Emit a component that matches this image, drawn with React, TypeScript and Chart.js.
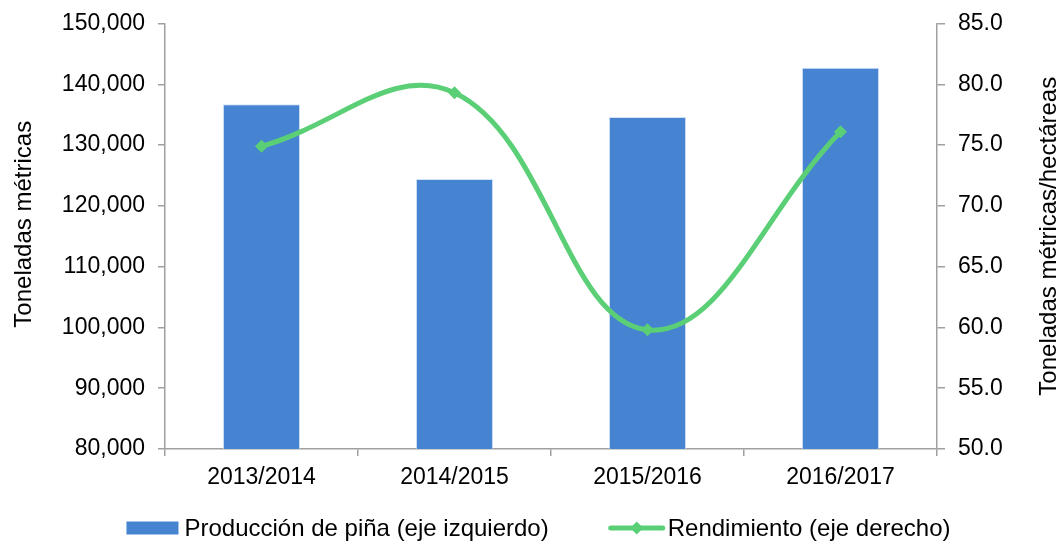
import React, { useEffect, useRef } from "react";
import { Chart, registerables } from "chart.js";

Chart.register(...registerables);

const categories = ["2013/2014", "2014/2015", "2015/2016", "2016/2017"];
const produccion = [136700, 124400, 134600, 142700];
const rendimiento = [74.9, 79.3, 59.8, 76.1];
const leftAxisRange = [80000, 150000, 10000];
const rightAxisRange = [50, 85, 5];
const seriesNames = ["Producción de piña (eje izquierdo)", "Rendimiento (eje derecho)"];
const axisTitles = ["Toneladas métricas", "Toneladas métricas/hectáreas"];

const FONT = '"Liberation Sans", Arial, Helvetica, sans-serif';
const BAR_COLOR = "#4683D1";
const LINE_COLOR = "#5ACF76";
const AXIS_COLOR = "#A0A0A0";

const overlayPlugin = {
  id: "overlay",
  afterDraw(chart: any) {
    const ctx = chart.ctx as CanvasRenderingContext2D;
    const ca = chart.chartArea;
    const midY = (ca.top + ca.bottom) / 2;
    ctx.save();
    ctx.fillStyle = "#000";
    ctx.textAlign = "center";
    ctx.textBaseline = "middle";
    ctx.font = `24px ${FONT}`;
    // left axis title
    ctx.save();
    ctx.translate(24, midY - 12);
    ctx.rotate(-Math.PI / 2);
    ctx.fillText(axisTitles[0], 0, 0);
    ctx.restore();
    // right axis title
    ctx.save();
    ctx.translate(chart.width - 10, midY);
    ctx.rotate(-Math.PI / 2);
    ctx.fillText(axisTitles[1], 0, 0);
    ctx.restore();

    // legend
    ctx.font = `24px ${FONT}`;
    const t1 = ctx.measureText(seriesNames[0]).width;
    const t2 = ctx.measureText(seriesNames[1]).width;
    const boxW = 52, gap1 = 6, between = 60, lineW = 56, gap2 = 3;
    const total = boxW + gap1 + t1 + between + lineW + gap2 + t2;
    let x = chart.width / 2 + 9 - total / 2;
    const y = 528;
    ctx.fillStyle = BAR_COLOR;
    ctx.fillRect(x, y - 6.5, boxW, 13);
    x += boxW + gap1;
    ctx.fillStyle = "#000";
    ctx.textAlign = "left";
    ctx.fillText(seriesNames[0], x, y + 1);
    x += t1 + between;
    ctx.strokeStyle = LINE_COLOR;
    ctx.lineWidth = 5;
    ctx.lineCap = "round";
    ctx.beginPath();
    ctx.moveTo(x + 2, y);
    ctx.lineTo(x + lineW - 2, y);
    ctx.stroke();
    ctx.fillStyle = LINE_COLOR;
    const cx = x + lineW / 2, r = 6.5;
    ctx.beginPath();
    ctx.moveTo(cx, y - r);
    ctx.lineTo(cx + r, y);
    ctx.lineTo(cx, y + r);
    ctx.lineTo(cx - r, y);
    ctx.closePath();
    ctx.fill();
    x += lineW + gap2;
    ctx.fillStyle = "#000";
    ctx.fillText(seriesNames[1], x, y + 1);
    ctx.restore();
  },
};

export default function App() {
  const canvasRef = useRef<HTMLCanvasElement | null>(null);

  useEffect(() => {
    document.body.style.margin = "0";
    const canvas = canvasRef.current;
    if (!canvas) return;
    const tickFont = { family: FONT, size: 23, lineHeight: 1.2 };
    const yTickFont = { family: FONT, size: 23, lineHeight: 0.8 };
    const chart = new Chart(canvas, {
      type: "bar",
      data: {
        labels: categories,
        datasets: [
          {
            type: "line",
            label: seriesNames[1],
            data: rendimiento,
            yAxisID: "y1",
            borderColor: LINE_COLOR,
            backgroundColor: LINE_COLOR,
            borderWidth: 5,
            tension: 0.4,
            pointStyle: "rectRot",
            pointRadius: 6.5,
            pointBorderWidth: 0,
            pointBackgroundColor: LINE_COLOR,
            order: 0,
          } as any,
          {
            type: "bar",
            label: seriesNames[0],
            data: produccion,
            yAxisID: "y",
            backgroundColor: BAR_COLOR,
            borderColor: "rgba(200,220,245,0.8)",
            borderWidth: 1,
            categoryPercentage: 1,
            barPercentage: 0.4,
            order: 1,
          } as any,
        ],
      },
      options: {
        animation: false,
        responsive: true,
        maintainAspectRatio: false,
        layout: { padding: { left: 0, right: 0, top: 23.5, bottom: 52 } },
        plugins: {
          legend: { display: false },
          tooltip: { enabled: false },
          title: { display: false },
        },
        scales: {
          x: {
            type: "category",
            offset: true,
            grid: {
              offset: true,
              drawOnChartArea: false,
              drawTicks: true,
              tickLength: 7,
              color: AXIS_COLOR,
              lineWidth: 1.5,
            },
            border: { display: true, color: AXIS_COLOR, width: 1.5 },
            ticks: { color: "#000", font: tickFont, padding: 8, maxRotation: 0 },
            afterFit(scale: any) {
              scale.height = 40;
            },
          },
          y: {
            type: "linear",
            position: "left",
            min: leftAxisRange[0],
            max: leftAxisRange[1],
            grid: {
              drawOnChartArea: false,
              drawTicks: true,
              tickLength: 7,
              color: AXIS_COLOR,
              lineWidth: 1.5,
            },
            border: { display: true, color: AXIS_COLOR, width: 1.5 },
            ticks: {
              stepSize: leftAxisRange[2],
              color: "#000",
              font: yTickFont,
              padding: 13,
              callback: (v: any) => Number(v).toLocaleString("en-US"),
            },
            afterFit(scale: any) {
              scale.width = 165;
              scale.paddingTop = 0;
            },
          },
          y1: {
            type: "linear",
            position: "right",
            min: rightAxisRange[0],
            max: rightAxisRange[1],
            grid: {
              drawOnChartArea: false,
              drawTicks: true,
              tickLength: 8,
              color: AXIS_COLOR,
              lineWidth: 1.5,
            },
            border: { display: true, color: AXIS_COLOR, width: 1.5 },
            ticks: {
              stepSize: rightAxisRange[2],
              color: "#000",
              font: yTickFont,
              padding: 13,
              callback: (v: any) => Number(v).toFixed(1),
            },
            afterFit(scale: any) {
              scale.width = 122;
              scale.paddingTop = 0;
            },
          },
        },
      },
      plugins: [overlayPlugin],
    });
    return () => chart.destroy();
  }, []);

  return (
    <div style={{ position: "relative", width: 1059, height: 541 }}>
      <canvas ref={canvasRef} />
    </div>
  );
}
